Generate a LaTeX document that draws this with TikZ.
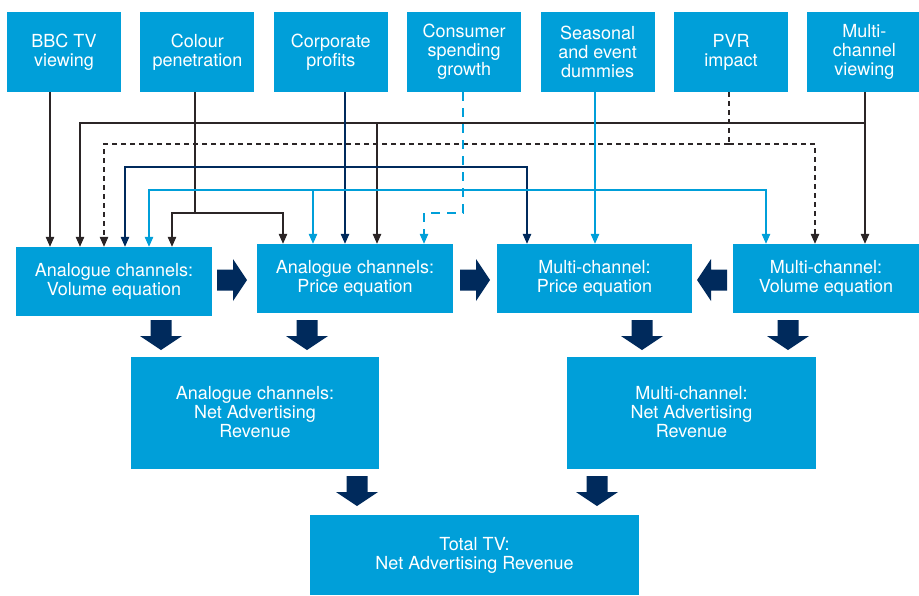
\documentclass[tikz,border=0pt]{standalone}
\usepackage{fontspec}
\setmainfont{TeX Gyre Heros}
\usetikzlibrary{arrows.meta}
\definecolor{tvblue}{HTML}{009FD9}
\definecolor{tvnavy}{HTML}{002A5C}
\definecolor{tvblack}{HTML}{2B2526}
\tikzset{
	box/.style={fill=tvblue, text=white, align=center, inner sep=0pt,
		font=\fontsize{18}{19}\selectfont},
	topbox/.style={box, minimum width=114pt, minimum height=80pt},
	eqbox/.style={box, minimum width=196pt, minimum height=69pt},
	feed/.style={line width=1.2pt, -{Triangle[width=8.5pt,length=10pt]}},
	blk/.style={feed, tvblack},
	nvy/.style={feed, tvnavy},
	lbl/.style={feed, tvblue},
	blkdash/.style={blk, dash pattern=on 5pt off 4pt},
	lbldash/.style={lbl, dash pattern=on 9pt off 7pt},
	bigarrow/.pic={\fill[tvnavy] (0,-10.5) -- (16,-10.5) -- (16,-21) -- (30,0)
		-- (16,21) -- (16,10.5) -- (0,10.5) -- cycle;}
}
\begin{document}
\begin{tikzpicture}[x=1pt,y=-1pt]
\useasboundingbox (0,0) rectangle (919,595);

% drivers
\foreach \name/\txt [count=\i from 0] in {bbc/{BBC TV\\viewing}, colour/{Colour\\penetration},
	corp/{Corporate\\profits}, cons/{Consumer\\spending\\growth},
	seas/{Seasonal\\and event\\dummies}, pvr/{PVR\\impact}, multi/{Multi-\\channel\\viewing}}
	\node[topbox] (\name) at (64+133.4*\i,52) {\txt};

% equations
\node[eqbox] (av) at (114,281.5) {Analogue channels:\\Volume equation};
\node[eqbox] (ap) at (355,278.5) {Analogue channels:\\Price equation};
\node[eqbox, minimum width=195pt] (mp) at (594.5,278.5) {Multi-channel:\\Price equation};
\node[eqbox, minimum width=186pt] (mv) at (826,278.5) {Multi-channel:\\Volume equation};

% revenues
\node[box, minimum width=248pt, minimum height=112pt] (anar) at (255,412.5)
	{Analogue channels:\\Net Advertising\\Revenue};
\node[box, minimum width=249pt, minimum height=112pt] (mnar) at (691.5,412.5)
	{Multi-channel:\\Net Advertising\\Revenue};
\node[box, minimum width=329pt, minimum height=80pt] (total) at (474.5,555)
	{Total TV:\\Net Advertising Revenue};

% block arrows
\pic at (217,280) {bigarrow};
\pic at (460,280) {bigarrow};
\pic[rotate=180] at (727,280) {bigarrow};
\foreach \x in {161,307,642,788}
	\pic[rotate=-90] at (\x,320) {bigarrow};
\foreach \x in {357,597}
	\pic[rotate=-90] at (\x,476) {bigarrow};

% BBC TV viewing
\draw[blk] (bbc.south -| 50,0) -- (av.north -| 50,0);
% colour penetration
\draw[blk,-] (colour.south -| 195,0) -- (195,213) coordinate (cpj);
\draw[blk] (cpj) -| (av.north -| 172,0);
\draw[blk] (cpj) -| (ap.north -| 283,0);
% multi-channel viewing
\draw[blk] (multi.south -| 865,0) -- (mv.north -| 865,0);
\draw[blk] (865,123) coordinate (mcj) -| (av.north -| 80,0);
\draw[blk] (377,123) -- (ap.north -| 377,0);
% PVR impact
\draw[blkdash,-] (pvr.south -| 729,0) -- (729,144) coordinate (pvj);
\draw[blkdash] (pvj) -| (av.north -| 104,0);
\draw[blkdash] (pvj) -| (mv.north -| 815,0);
% corporate profits
\draw[nvy] (corp.south -| 345,0) -- (ap.north -| 345,0);
\draw[nvy] (345,167) coordinate (cpr) -| (av.north -| 125,0);
\draw[nvy] (cpr) -| (mp.north -| 527,0);
% seasonal and event dummies
\draw[lbl] (seas.south -| 595,0) -- (mp.north -| 595,0);
\draw[lbl] (595,190) coordinate (sej) -| (av.north -| 149,0);
\draw[lbl] (sej) -| (mv.north -| 766,0);
\draw[lbl] (313,190) -- (ap.north -| 313,0);
% consumer spending growth
\draw[lbldash] (cons.south -| 463,0) -- (463,213) -| (ap.north -| 424,0);
\end{tikzpicture}
\end{document}
